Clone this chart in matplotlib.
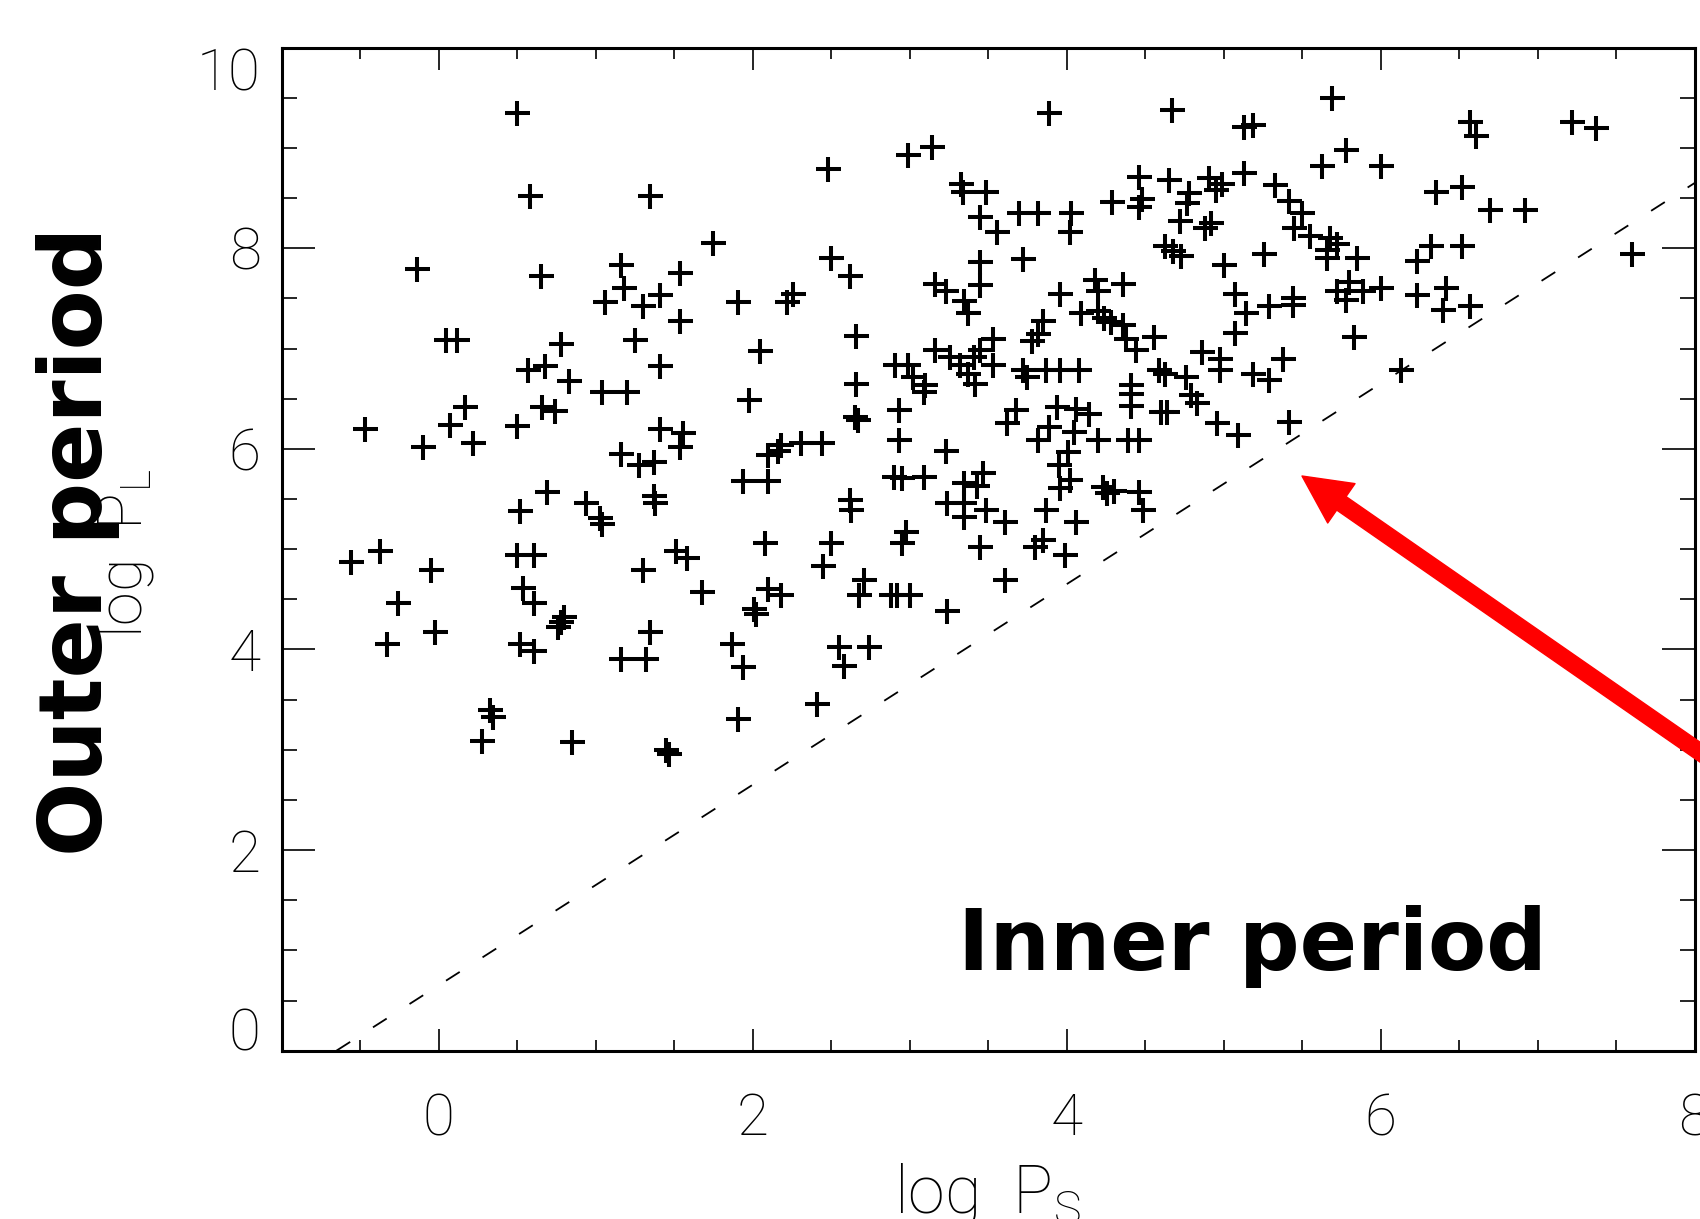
import matplotlib
matplotlib.use('Agg')
import matplotlib.pyplot as plt
from matplotlib.ticker import MultipleLocator

# log P_S (inner period) and log P_L (outer period)
log_ps = [
    0.50, 0.58, 1.35, 1.75, -0.14, 0.65, 1.16, 1.54, 1.18, 1.06, 1.30, 1.41, 1.91, 1.54,
    0.05, 0.12, 0.78, 1.25, 2.05, 1.41, 0.57, 0.68, 0.83, 1.04, 1.20, 1.98, 0.17, 0.66,
    0.74, -0.47, 0.07, 0.50, 1.41, 1.56,
    -0.10, 0.22, 1.16, 1.28, 1.37, 1.54, 1.94, 0.69, 0.52, 0.94, 1.03, 1.04, 1.37, 1.38,
    -0.37, -0.56, -0.05, 0.50, 0.61, 1.30, 1.51, 1.58, 1.68, 2.01, 2.02, -0.26, 0.54, 0.61,
    0.80, 0.76, 0.78, -0.33, -0.02, 0.52, 0.61, 1.35, 1.16, 1.32, 1.87, 1.94, 0.33, 0.35,
    0.28, 0.85, 1.45, 1.47, 1.91,
    3.89, 4.67, 2.99, 3.14, 2.48, 3.33, 3.34, 3.49, 3.45, 3.56, 3.70, 3.82, 4.03, 4.02,
    4.29, 4.46, 4.48, 4.46, 4.65, 4.78, 4.77, 4.72, 4.63, 4.68, 4.73,
    2.50, 2.62, 2.26, 2.22, 3.45, 3.45, 3.72, 3.16, 3.23, 3.35, 3.37, 3.96, 4.18, 4.20,
    4.36, 4.09, 4.20, 4.24, 4.28, 4.36, 4.38, 4.44, 4.56, 2.66, 3.85, 3.82, 3.78, 3.53,
    3.45, 3.16, 3.26, 3.41, 3.53, 2.91, 2.99, 3.02, 3.10, 3.09, 3.32, 3.37, 3.42, 2.66,
    3.72, 3.75, 3.87, 3.96, 4.08, 4.41, 4.41, 4.59, 4.63, 4.76, 4.79, 4.86, 4.41, 4.60,
    4.64, 4.83, 2.65, 2.67, 2.93, 3.68, 3.62, 3.94, 3.89, 4.06, 4.14,
    2.10, 2.18, 2.16, 2.31, 2.44, 2.10, 2.93, 3.23, 3.82, 4.20, 4.39, 4.46, 4.01, 3.95,
    4.02, 3.96, 4.05, 2.90, 2.95, 3.09, 2.62, 2.63, 3.35, 3.43, 3.47, 3.24, 3.35, 3.35,
    3.49, 3.61, 3.87, 4.06, 4.23, 4.26, 4.30, 4.46, 4.49, 2.08, 2.50, 2.45, 2.98, 2.95,
    3.45, 3.85, 3.80, 3.99, 3.61, 2.10, 2.18, 2.71, 2.68, 2.88, 2.92, 3.00, 3.24, 2.55,
    2.74, 2.58, 2.41,
    5.69, 5.13, 5.19, 6.57, 6.61, 7.22, 7.37, 5.78, 5.63, 6.00, 5.13, 4.91, 4.99, 4.95,
    5.33, 5.42, 5.50, 5.45, 5.55, 6.35, 6.52, 6.70, 6.92, 4.92, 4.88, 5.68, 5.72, 5.66,
    5.85, 5.66, 5.26, 5.00, 6.32, 6.52, 6.23, 6.23, 7.60, 5.07, 5.14, 5.29, 5.44, 5.44,
    5.72, 5.89, 5.78, 5.80, 6.00, 6.42, 6.40, 6.57, 5.83, 5.07, 5.38, 4.98, 4.98, 5.19,
    5.29, 6.13, 4.96, 5.09, 5.42,
]
log_pl = [
    9.35, 8.52, 8.52, 8.05, 7.79, 7.72, 7.83, 7.75, 7.60, 7.46, 7.42, 7.53, 7.46, 7.27,
    7.09, 7.09, 7.05, 7.09, 6.98, 6.83, 6.79, 6.83, 6.68, 6.57, 6.57, 6.49, 6.42, 6.42,
    6.38, 6.20, 6.24, 6.23, 6.20, 6.16,
    6.02, 6.06, 5.95, 5.84, 5.87, 6.02, 5.68, 5.57, 5.38, 5.46, 5.31, 5.25, 5.53, 5.46,
    4.98, 4.87, 4.79, 4.94, 4.94, 4.79, 4.98, 4.91, 4.57, 4.40, 4.35, 4.46, 4.61, 4.46,
    4.32, 4.22, 4.27, 4.05, 4.17, 4.05, 3.98, 4.17, 3.90, 3.90, 4.05, 3.83, 3.40, 3.33,
    3.09, 3.08, 3.00, 2.96, 3.31,
    9.35, 9.38, 8.93, 9.01, 8.79, 8.64, 8.56, 8.56, 8.31, 8.16, 8.35, 8.35, 8.35, 8.16,
    8.46, 8.71, 8.49, 8.41, 8.68, 8.55, 8.45, 8.27, 8.02, 7.97, 7.92,
    7.90, 7.72, 7.54, 7.46, 7.86, 7.63, 7.89, 7.64, 7.57, 7.47, 7.35, 7.54, 7.68, 7.57,
    7.64, 7.35, 7.37, 7.30, 7.26, 7.23, 7.10, 6.99, 7.12, 7.13, 7.27, 7.15, 7.08, 7.10,
    6.99, 6.99, 6.92, 6.92, 6.84, 6.84, 6.84, 6.72, 6.64, 6.57, 6.84, 6.75, 6.65, 6.65,
    6.79, 6.72, 6.79, 6.79, 6.79, 6.64, 6.55, 6.79, 6.75, 6.72, 6.54, 6.97, 6.43, 6.37,
    6.37, 6.46, 6.32, 6.29, 6.39, 6.39, 6.26, 6.42, 6.22, 6.40, 6.35,
    5.94, 6.04, 5.98, 6.06, 6.06, 5.68, 6.09, 5.98, 6.09, 6.09, 6.09, 6.09, 5.97, 5.84,
    5.69, 5.61, 6.17, 5.72, 5.71, 5.72, 5.49, 5.39, 5.66, 5.63, 5.76, 5.46, 5.46, 5.32,
    5.39, 5.27, 5.39, 5.27, 5.62, 5.56, 5.58, 5.57, 5.39, 5.06, 5.06, 4.83, 5.17, 5.06,
    5.02, 5.09, 5.02, 4.94, 4.69, 4.60, 4.54, 4.69, 4.54, 4.54, 4.54, 4.54, 4.38, 4.02,
    4.02, 3.84, 3.46,
    9.50, 9.21, 9.23, 9.26, 9.12, 9.26, 9.20, 8.98, 8.82, 8.82, 8.75, 8.70, 8.64, 8.58,
    8.63, 8.47, 8.35, 8.20, 8.12, 8.56, 8.61, 8.38, 8.38, 8.25, 8.20, 8.10, 8.04, 7.98,
    7.90, 7.90, 7.94, 7.83, 8.02, 8.02, 7.87, 7.53, 7.94, 7.54, 7.35, 7.42, 7.50, 7.43,
    7.57, 7.57, 7.48, 7.66, 7.60, 7.60, 7.38, 7.42, 7.12, 7.16, 6.90, 6.90, 6.79, 6.75,
    6.69, 6.79, 6.26, 6.14, 6.27,
]

# reference line P_L / P_S ~ 4.5
ref_x = [-0.65, 8.0]
ref_y = [0.0, 8.65]

x_ticks = [0, 2, 4, 6, 8]
y_ticks = [0, 2, 4, 6, 8, 10]

plt.rcParams['font.family'] = ['Roboto', 'DejaVu Sans']
plt.rcParams['font.weight'] = 'light'

fig = plt.figure(figsize=(17, 12.19), dpi=100)
ax = fig.add_axes([0.1656, 0.1381, 0.8312, 0.8228])

ax.plot(ref_x, ref_y, color='black', lw=1.3, linestyle=(0, (9, 15)), zorder=1)
ax.plot(log_ps, log_pl, linestyle='none', marker='+', ms=18, mew=2.9,
        color='black', zorder=2)

ax.set_xlim(-1, 8)
ax.set_ylim(0, 10)
ax.set_xticks(x_ticks)
ax.set_yticks(y_ticks)
ax.xaxis.set_minor_locator(MultipleLocator(0.5))
ax.yaxis.set_minor_locator(MultipleLocator(0.5))

ax.tick_params(which='both', direction='in', top=True, right=True, width=1.2,
               labelsize=42)
ax.tick_params(axis='x', which='major', length=16, pad=30)
ax.tick_params(axis='x', which='minor', length=8)
ax.tick_params(axis='y', which='major', length=24, pad=15)
ax.tick_params(axis='y', which='minor', length=11)
for spine in ax.spines.values():
    spine.set_linewidth(2.2)

# end labels on the y axis sit inside the frame
yt = ax.yaxis.get_major_ticks()
yt[0].label1.set_va('baseline')
yt[-1].label1.set_va('top')

# axis labels
fig.text(0.581, 0.0057, 'log  P$_\\mathregular{S}$', fontsize=48,
         ha='center', va='baseline')
fig.text(0.0835, 0.5463, 'log  P$_\\mathregular{L}$', fontsize=44, rotation=90,
         rotation_mode='anchor', ha='center', va='baseline')

# annotations
fig.text(0.06, 0.5562, 'Outer period', fontsize=63, fontweight='bold',
         family='DejaVu Sans', rotation=90, rotation_mode='anchor',
         ha='center', va='baseline')
fig.text(0.7365, 0.2043, 'Inner period', fontsize=61, fontweight='bold',
         family='DejaVu Sans', ha='center', va='baseline')

ax.annotate('', xy=(1302, 743), xycoords='figure pixels',
            xytext=(1720, 453), textcoords='figure pixels',
            arrowprops=dict(color='red', width=11.8, headwidth=34.5,
                            headlength=34.5, shrink=0),
            annotation_clip=False)

fig.savefig('out.png', dpi=100)
